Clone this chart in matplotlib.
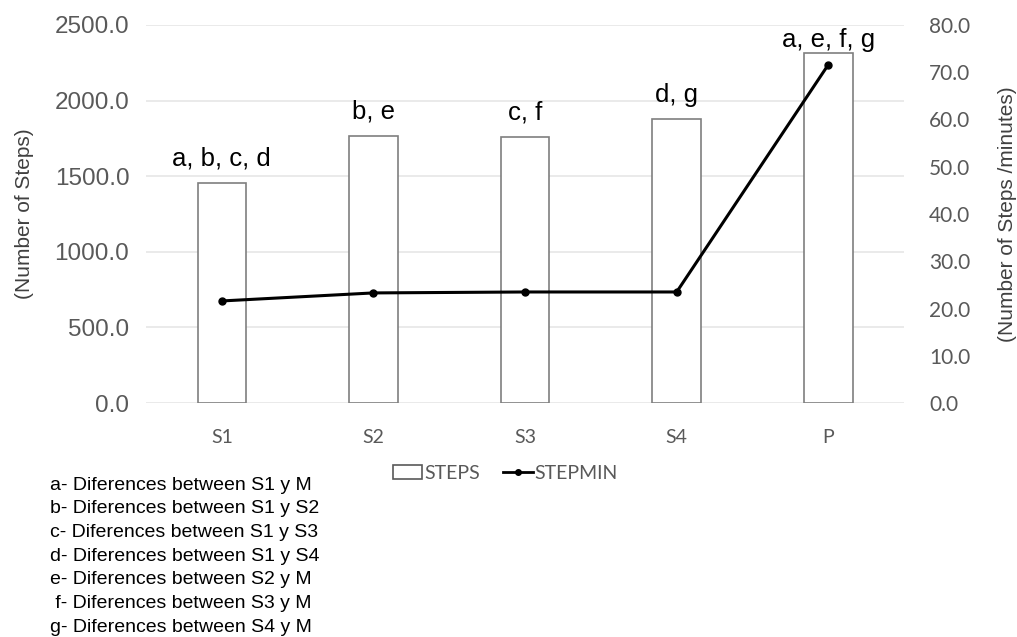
import numpy as np
from matplotlib import pyplot as plt
from matplotlib.lines import Line2D
from matplotlib.patches import Patch

# sessions and their values
sessions = ['S1', 'S2', 'S3', 'S4', 'P']
steps = [1455, 1766, 1762, 1878, 2315]
stepmin = [21.6, 23.3, 23.5, 23.5, 71.6]
sig_labels = ['a, b, c, d', 'b, e', 'c, f', 'd, g', 'a, e, f, g']
notes = ['a- Diferences between S1 y M',
         'b- Diferences between S1 y S2',
         'c- Diferences between S1 y S3',
         'd- Diferences between S1 y S4',
         'e- Diferences between S2 y M',
         ' f- Diferences between S3 y M',
         'g- Diferences between S4 y M']

arial = 'Liberation Sans'
calibri = 'Lato'
tick_gray = '#595959'

fig = plt.figure(figsize=(10.17, 6.37), dpi=100)
ax = fig.add_axes([0.1436, 0.3673, 0.7454, 0.5935])
ax2 = ax.twinx()

x = np.arange(len(sessions))
rects = ax.bar(x, steps, 0.32, facecolor='white', edgecolor='#7f7f7f', lw=1.2, zorder=2)
anns = ax.bar_label(rects, labels=sig_labels, padding=9, fontsize=18.5, family=arial, color='black')
# the tallest label sits closer to its bar so it stays under the top gridline
anns[-1].xyann = (0, 1)

ax.set_ylim(0, 2500)
ax.set_yticks(np.arange(0, 2501, 500))
ax.set_yticklabels([f'{v:.1f}' for v in np.arange(0, 2501, 500)], family=arial, fontsize=17.5, color=tick_gray)
ax.set_xlim(-0.5, len(sessions) - 0.5)
ax.set_xticks(x, sessions)
for t in ax.get_xticklabels():
    t.set_family(calibri)
    t.set_fontsize(14)
    t.set_color(tick_gray)
ax.yaxis.grid(True, color='#e6e6e6', lw=1.2, zorder=0)
ax.set_axisbelow(True)
ax.tick_params(length=0, pad=12)
ax.tick_params(axis='x', pad=19)
ax.set_ylabel('(Number of Steps)', family=arial, fontsize=15, color='#404040', labelpad=15)

ax2.plot(x, stepmin, color='black', lw=2.2, marker='o', ms=5, zorder=3)
ax2.set_ylim(0, 80)
ax2.set_yticks(np.arange(0, 81, 10))
ax2.set_yticklabels([f'{v:.1f}' for v in np.arange(0, 81, 10)], family=calibri, fontsize=15, color=tick_gray)
ax2.tick_params(length=0, pad=18)
ax2.set_ylabel('(Number of Steps /minutes)', family=arial, fontsize=15, color='#404040', labelpad=20)

for a in (ax, ax2):
    for s in a.spines.values():
        s.set_visible(False)

handles = [Patch(facecolor='white', edgecolor='#595959', lw=1.2),
           Line2D([], [], color='black', lw=2, marker='o', ms=4)]
fig.legend(handles, ['STEPS', 'STEPMIN'], loc='center', bbox_to_anchor=(0.497, 0.257), ncols=2,
           frameon=False, prop={'family': calibri, 'size': 14}, labelcolor=tick_gray,
           handlelength=1.5, handletextpad=0.1, columnspacing=1.2)

# footnotes explaining the letters above the bars
for i, note in enumerate(notes):
    fig.text(0.049, 1 - (485 + i * 23.7) / 637, note, family=arial, fontsize=14,
             color='black', va='center')

fig.savefig('out.png', dpi=100)
